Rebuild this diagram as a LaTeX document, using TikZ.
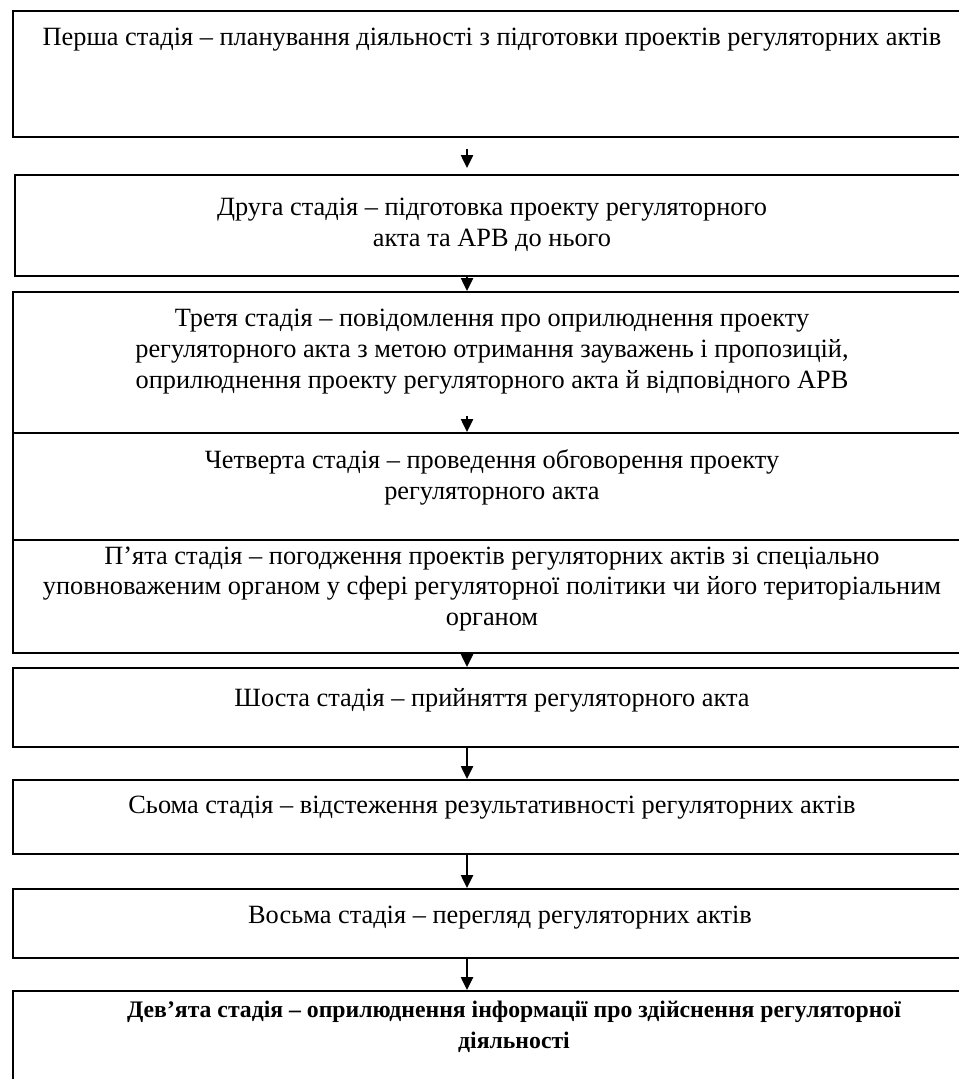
\documentclass[tikz,border=0pt]{standalone}
\usepackage{fontspec}
\setmainfont{Liberation Serif}
\usetikzlibrary{arrows.meta,positioning,calc}

\begin{document}
\begin{tikzpicture}[x=0.02cm,y=-0.02cm,
  stage/.style={draw,line width=1.3pt,minimum width=19.2cm,anchor=north west,inner sep=0pt},
  stagetext/.style={align=center,inner sep=0pt,font=\fontsize{15}{17.6}\selectfont},
  flow/.style={-{Triangle[width=0.24cm,length=0.26cm]},line width=1.4pt}]
  \useasboundingbox (0,0) rectangle (959,1079);
  % boxes of the stages
  \node[stage,minimum height=2.52cm] (b1) at (12,10) {};
  \node[stage,minimum height=2.02cm] (b2) at (14,174) {};
  \node[stage,minimum height=2.82cm] (b3) at (12,291) {};
  \node[stage,minimum height=2.14cm] (b4) at (12,432) {};
  \node[stage,minimum height=2.26cm] (b5) at (12,539) {};
  \node[stage,minimum height=1.58cm] (b6) at (12,667) {};
  \node[stage,minimum height=1.48cm] (b7) at (12,779) {};
  \node[stage,minimum height=1.38cm] (b8) at (12,888) {};
  \node[stage,minimum height=2.20cm] (b9) at (12,990) {};
  % texts
  \node[stagetext] (t1) at (492,40) {Перша стадія – планування діяльності з підготовки проектів регуляторних актів};
  \node[stagetext] (t2) at (492,225) {Друга стадія – підготовка проекту регуляторного\\акта та АРВ до нього};
  \node[stagetext] (t3) at (492,352) {Третя стадія – повідомлення про оприлюднення проекту\\регуляторного акта з метою отримання зауважень і пропозицій,\\оприлюднення проекту регуляторного акта й відповідного АРВ};
  \node[stagetext] (t4) at (492,477) {Четверта стадія – проведення обговорення проекту\\регуляторного акта};
  \node[stagetext] (t5) at (492,589) {П’ята стадія – погодження проектів регуляторних актів зі спеціально\\уповноваженим органом у сфері регуляторної політики чи його територіальним\\органом};
  \node[stagetext] (t6) at (492,700) {Шоста стадія – прийняття регуляторного акта};
  \node[stagetext] (t7) at (492,808) {Сьома стадія – відстеження результативності регуляторних актів};
  \node[stagetext,font=\fontsize{13.5}{17.6}\selectfont\bfseries] (t9) at (514,1027) {Дев’ята стадія – оприлюднення інформації про здійснення регуляторної\\діяльності};
  \node[stagetext] (t8) at (500,918) {Восьма стадія – перегляд регуляторних актів};
  % arrows
  \coordinate (ax) at (467,0);
  \coordinate (a34) at (467,416);
  \draw[flow,shorten <=0.22cm,shorten >=0.12cm] (b1.south -| ax) -- (b2.north -| ax);
  \draw[flow] (b2.south -| ax) -- (b3.north -| ax);
  \draw[flow] (a34) -- (a34 |- b4.north);
  \draw[flow] (b5.south -| ax) -- (b6.north -| ax);
  \draw[flow] (b6.south -| ax) -- (b7.north -| ax);
  \draw[flow] (b7.south -| ax) -- (b8.north -| ax);
  \draw[flow] (b8.south -| ax) -- (b9.north -| ax);
\end{tikzpicture}
\end{document}
